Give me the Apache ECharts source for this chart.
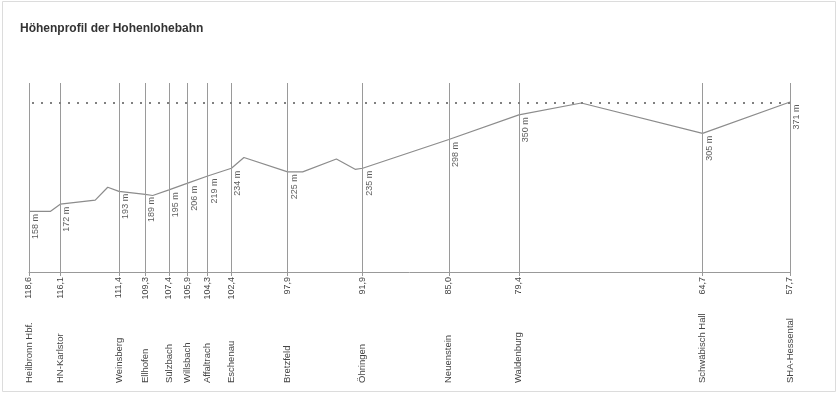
<!DOCTYPE html>
<html>
<head>
<meta charset="utf-8">
<script src="https://cdn.jsdelivr.net/npm/echarts@6/dist/echarts.min.js"></script>
<style>
  html, body { margin: 0; padding: 0; background: #fff; }
  #chart { width: 839px; height: 397px; }
</style>
</head>
<body>
<div id="chart"></div>
<script>
// Stations (km position, name, labelled elevation in m)
const stationNames = ['Heilbronn Hbf.', 'HN-Karlstor', 'Weinsberg', 'Ellhofen', 'Sülzbach', 'Willsbach', 'Affaltrach', 'Eschenau', 'Bretzfeld', 'Öhringen', 'Neuenstein', 'Waldenburg', 'Schwäbisch Hall', 'SHA-Hessental'];
const stationKm = [118.6, 116.1, 111.4, 109.3, 107.4, 105.9, 104.3, 102.4, 97.9, 91.9, 85.0, 79.4, 64.7, 57.7];
const stationElev = [158, 172, 193, 189, 195, 206, 219, 234, 225, 235, 298, 350, 305, 371];

// Profile line (km, elevation) as drawn
const profileKm = [118.6, 116.9, 116.1, 113.3, 112.3, 111.4, 109.3, 108.7, 107.4, 105.9, 104.3, 102.4, 101.4, 97.9, 96.7, 94.0, 92.5, 91.9, 85.0, 79.4, 74.4, 64.7, 57.7];
const profileElev = [158, 158, 172, 180, 205, 197, 191, 189, 200, 213, 227, 242, 263, 235, 235, 260, 240, 242, 298, 346, 369, 310, 371];

// Dotted reference level (summit)
const summitLevel = 370;

const chart = echarts.init(document.getElementById('chart'), null, { renderer: 'canvas' });

const fontFamily = '"Liberation Sans", Arial, Helvetica, sans-serif';
const kmFmt = v => v.toFixed(1).replace('.', ',');

const profileData = profileKm.map((k, i) => [k, profileElev[i]]);
const labelData = stationKm.map((k, i) => {
  const idx = profileKm.indexOf(k);
  return { value: [k, profileElev[idx]], elev: stationElev[i] };
});

const option = {
  backgroundColor: '#ffffff',
  animation: false,
  title: {
    text: 'Höhenprofil der Hohenlohebahn',
    left: 20,
    top: 23,
    padding: 0,
    textStyle: { fontFamily, fontSize: 12, fontWeight: 'bold', color: '#333' }
  },
  graphic: [{
    type: 'rect',
    shape: { x: 2.5, y: 1.5, width: 833, height: 390 },
    style: { fill: 'none', stroke: '#dcdcdc', lineWidth: 1 },
    silent: true
  }],
  grid: { left: 29, right: 49, top: 83, bottom: 125, outerBoundsMode: 'none', containLabel: false },
  xAxis: [{
    type: 'value',
    min: 57.7,
    max: 118.6,
    inverse: true,
    position: 'bottom',
    splitLine: { show: false },
    axisLine: { show: true, lineStyle: { color: '#999', width: 1 } },
    axisTick: { show: true, length: 4, customValues: stationKm, lineStyle: { color: '#999' } },
    axisLabel: {
      show: true, customValues: stationKm, rotate: 90, margin: 5,
      fontFamily, fontSize: 9, color: '#444',
      formatter: v => kmFmt(v)
    }
  }, {
    type: 'value',
    min: 57.7,
    max: 118.6,
    inverse: true,
    position: 'bottom',
    splitLine: { show: false },
    axisLine: { show: false },
    axisTick: { show: false },
    axisLabel: {
      show: true, customValues: stationKm, rotate: 90, margin: 111, align: 'left',
      fontFamily, fontSize: 9.5, color: '#444',
      formatter: v => {
        const i = stationKm.findIndex(k => Math.abs(k - v) < 1e-6);
        return i >= 0 ? stationNames[i] : '';
      }
    }
  }],
  yAxis: {
    type: 'value',
    min: 40,
    max: 408,
    show: false,
    splitLine: { show: false }
  },
  series: [{
    type: 'line',
    xAxisIndex: 0,
    data: profileData,
    showSymbol: false,
    symbol: 'none',
    silent: true,
    lineStyle: { color: '#8c8c8c', width: 1.2 },
    z: 3,
    markLine: {
      silent: true,
      symbol: ['none', 'none'],
      label: { show: false },
      lineStyle: { color: '#9a9a9a', width: 1, type: 'solid' },
      data: stationKm.map(k => ({ xAxis: k }))
        .concat([{ yAxis: summitLevel, lineStyle: { color: '#808080', width: 2, type: [2, 7] } }])
    }
  }, {
    type: 'scatter',
    xAxisIndex: 0,
    data: labelData,
    symbolSize: 1,
    itemStyle: { color: 'rgba(0,0,0,0)' },
    silent: true,
    z: 4,
    label: {
      show: true,
      rotate: 90,
      position: [7, 3],
      align: 'right',
      verticalAlign: 'middle',
      fontFamily, fontSize: 9, color: '#333',
      formatter: p => p.data.elev + ' m'
    }
  }]
};

chart.setOption(option);
</script>
</body>
</html>
